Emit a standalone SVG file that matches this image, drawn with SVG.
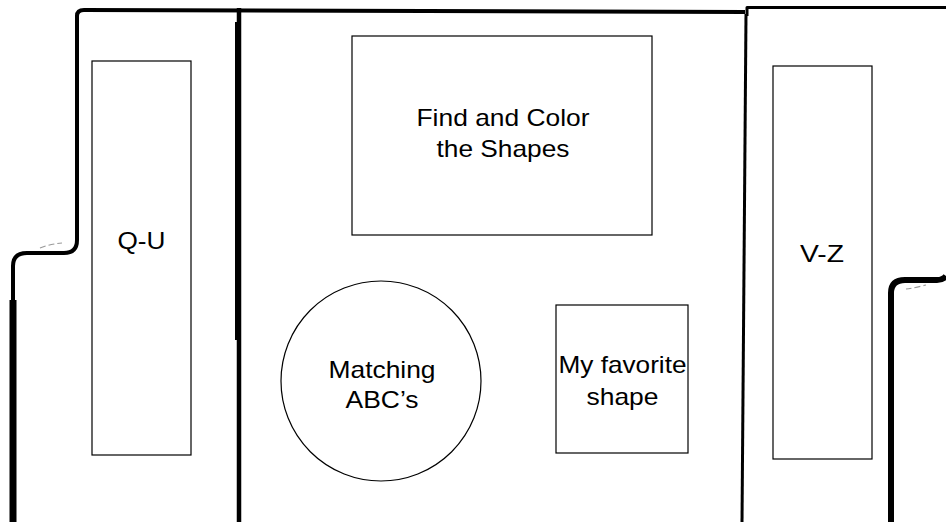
<svg xmlns="http://www.w3.org/2000/svg" width="946" height="522" viewBox="0 0 946 522">
<style>
.wall{fill:none;stroke:#000;stroke-linecap:butt;stroke-linejoin:round}
.box{fill:#fff;stroke:#000;stroke-width:1.2}
.lbl{font-family:"Liberation Sans",Arial,sans-serif;font-size:24px;fill:#000;text-anchor:middle}
.faint{fill:none;stroke:#999;stroke-width:1.2;stroke-dasharray:6 3}
</style>
<rect width="946" height="522" fill="#fff"/>
<g id="walls">
<path class="wall" stroke-width="4" d="M13,300 L13,266 Q13,253 27,253 L64,253 Q77,253 77,240 L77,16 Q77,10 84,10 L745,12"/>
<path class="wall" stroke-width="7" d="M13,300 L13,522"/>
<path class="wall" stroke-width="6" d="M238,22 L238,340"/>
<path class="wall" stroke-width="4.5" d="M239,8 L239,522"/>
<path class="wall" stroke-width="3" d="M747,16 L747,7.5 L946,7.5"/>
<path class="wall" stroke-width="3" d="M746,14 L742,522"/>
<path class="wall" stroke-width="6" d="M891,522 L891,293 Q891,280 905,280 L937,280 Q943,280 946,276"/>
<path class="faint" d="M40,248 Q50,244 62,243"/>
<path class="faint" d="M906,289 Q915,288 926,285"/>
</g>
<g id="node-qu">
<rect class="box" x="92" y="61" width="99" height="394"/>
<text class="lbl" x="141.5" y="249" textLength="48" lengthAdjust="spacingAndGlyphs">Q-U</text>
</g>
<g id="node-vz">
<rect class="box" x="773" y="66" width="99" height="393"/>
<text class="lbl" x="822" y="262" textLength="44" lengthAdjust="spacingAndGlyphs">V-Z</text>
</g>
<g id="node-find">
<rect class="box" x="352" y="36" width="300" height="199"/>
<text class="lbl" x="503" y="126" textLength="173" lengthAdjust="spacingAndGlyphs">Find and Color</text>
<text class="lbl" x="503" y="157" textLength="133" lengthAdjust="spacingAndGlyphs">the Shapes</text>
</g>
<g id="node-matching">
<circle class="box" cx="381" cy="381" r="100"/>
<text class="lbl" x="382" y="378" textLength="107" lengthAdjust="spacingAndGlyphs">Matching</text>
<text class="lbl" x="382" y="408" textLength="73" lengthAdjust="spacingAndGlyphs">ABC’s</text>
</g>
<g id="node-favorite">
<rect class="box" x="556" y="305" width="132" height="148"/>
<text class="lbl" x="622.5" y="373" textLength="128" lengthAdjust="spacingAndGlyphs">My favorite</text>
<text class="lbl" x="622.5" y="405" textLength="72" lengthAdjust="spacingAndGlyphs">shape</text>
</g>
<g id="connectors"></g>
</svg>
